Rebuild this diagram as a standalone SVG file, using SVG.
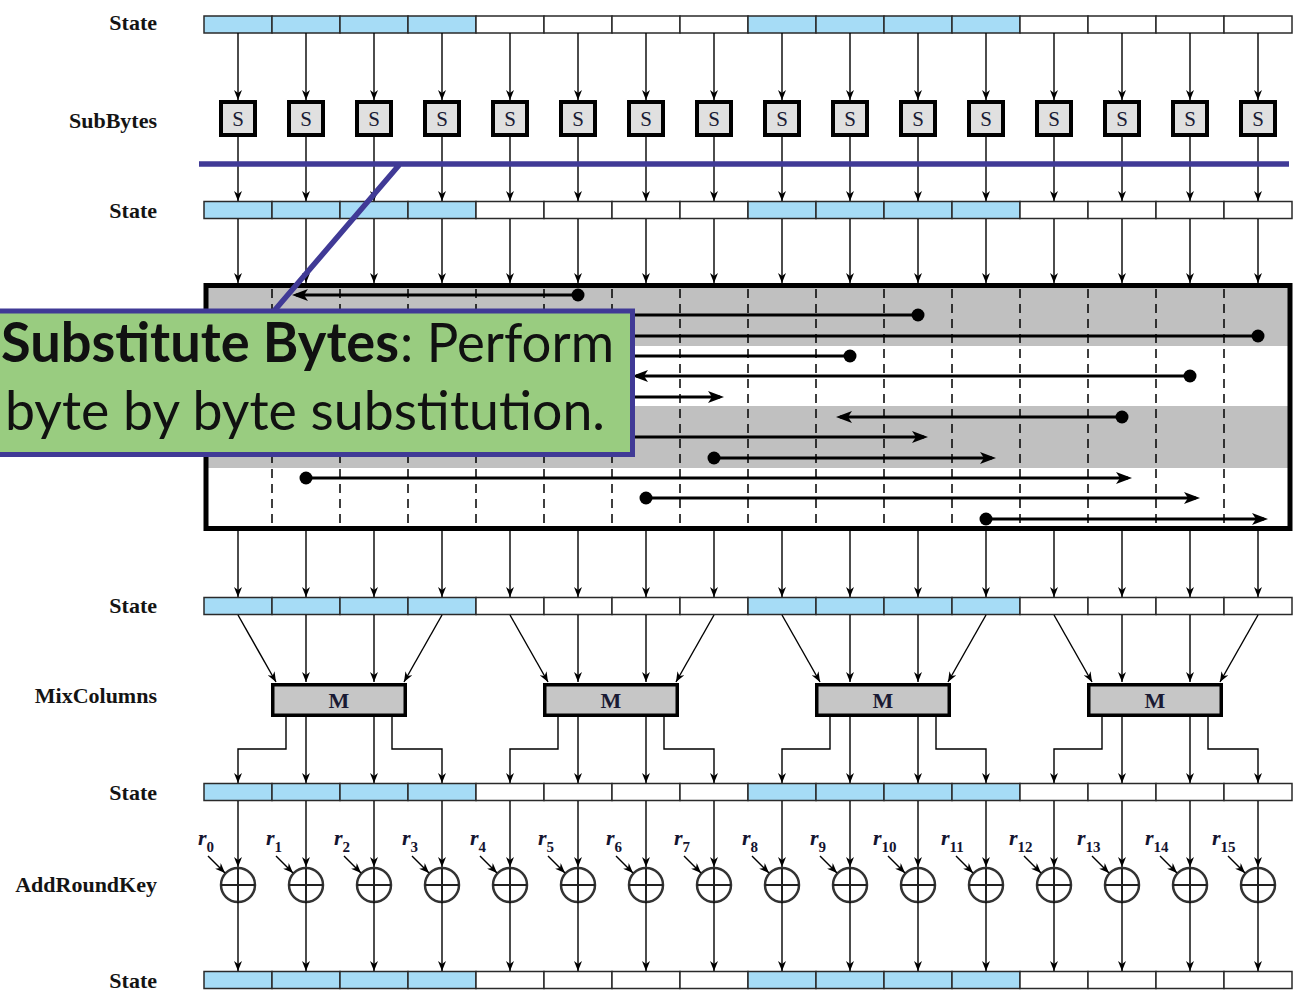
<svg xmlns="http://www.w3.org/2000/svg" xmlns:xlink="http://www.w3.org/1999/xlink" width="1300" height="1005" viewBox="0 0 1300 1005">
<style>
.lbl{font-family:"Liberation Serif","Times New Roman",serif;font-weight:bold;font-size:22px;fill:#141414;text-anchor:end}
.cb{fill:#a6dcf6;stroke:#2a2a2a;stroke-width:1.5}
.cw{fill:#ffffff;stroke:#2a2a2a;stroke-width:1.5}
.sbox{fill:#e0e0e0;stroke:#000;stroke-width:4}
.stx{font-family:"Liberation Serif","Times New Roman",serif;font-size:21px;fill:#1a1a33;text-anchor:middle}
.mbox{fill:#c6c6c6;stroke:#000;stroke-width:3.5}
.mtx{font-family:"Liberation Serif","Times New Roman",serif;font-weight:bold;font-size:22px;fill:#1a1a33;text-anchor:middle}
.ar{stroke:#000;stroke-width:1.4;fill:none;marker-end:url(#ah)}
.sh{stroke:#000;stroke-width:3;fill:none;marker-end:url(#ahb)}
.dot{fill:#000}
.dash{stroke:#000;stroke-width:1.5;stroke-dasharray:9 6}
.band{fill:#c0c0c0}
.xor{fill:#fff;stroke:#333;stroke-width:2.5}
.plus{stroke:#222;stroke-width:2}
.rk{font-family:"Liberation Serif","Times New Roman",serif;font-style:italic;font-weight:bold;font-size:22px;fill:#141430}
.sub{font-style:normal;font-size:15px}
.co{font-family:Lato,"Open Sans",sans-serif;font-size:55px;fill:#111}
.pur{stroke:#403a96;stroke-width:5.5;fill:none}
</style>
<defs>
<marker id="ah" viewBox="0 0 10 8" refX="10" refY="4" markerWidth="10" markerHeight="8" markerUnits="userSpaceOnUse" orient="auto"><path d="M0,0 L10,4 L0,8 L3,4 z" fill="#000"/></marker>
<marker id="ahb" viewBox="0 0 16 12" refX="12" refY="6" markerWidth="16" markerHeight="12" markerUnits="userSpaceOnUse" orient="auto"><path d="M0,0 L16,6 L0,12 L4,6 z" fill="#000"/></marker>
<g id="bar">
<rect x="204" y="0" width="68" height="17" class="cb"/>
<rect x="272" y="0" width="68" height="17" class="cb"/>
<rect x="340" y="0" width="68" height="17" class="cb"/>
<rect x="408" y="0" width="68" height="17" class="cb"/>
<rect x="476" y="0" width="68" height="17" class="cw"/>
<rect x="544" y="0" width="68" height="17" class="cw"/>
<rect x="612" y="0" width="68" height="17" class="cw"/>
<rect x="680" y="0" width="68" height="17" class="cw"/>
<rect x="748" y="0" width="68" height="17" class="cb"/>
<rect x="816" y="0" width="68" height="17" class="cb"/>
<rect x="884" y="0" width="68" height="17" class="cb"/>
<rect x="952" y="0" width="68" height="17" class="cb"/>
<rect x="1020" y="0" width="68" height="17" class="cw"/>
<rect x="1088" y="0" width="68" height="17" class="cw"/>
<rect x="1156" y="0" width="68" height="17" class="cw"/>
<rect x="1224" y="0" width="68" height="17" class="cw"/>
</g>
</defs>
<rect width="1300" height="1005" fill="#fff"/>

<g id="labels">
<text class="lbl" x="157" y="30">State</text>
<text class="lbl" x="157" y="128">SubBytes</text>
<text class="lbl" x="157" y="218">State</text>
<text class="lbl" x="157" y="613">State</text>
<text class="lbl" x="157" y="703">MixColumns</text>
<text class="lbl" x="157" y="800">State</text>
<text class="lbl" x="157" y="892">AddRoundKey</text>
<text class="lbl" x="157" y="988">State</text>
</g>

<g id="state-1"><use href="#bar" y="16"/></g>
<g id="state-2"><use href="#bar" y="201.5"/></g>
<g id="state-3"><use href="#bar" y="597.5"/></g>
<g id="state-4"><use href="#bar" y="783.5"/></g>
<g id="state-5"><use href="#bar" y="971.5"/></g>

<g id="subbytes">
<g id="s0"><rect class="sbox" x="221" y="102" width="34" height="33"/><text class="stx" x="238" y="126">S</text></g>
<g id="s1"><rect class="sbox" x="289" y="102" width="34" height="33"/><text class="stx" x="306" y="126">S</text></g>
<g id="s2"><rect class="sbox" x="357" y="102" width="34" height="33"/><text class="stx" x="374" y="126">S</text></g>
<g id="s3"><rect class="sbox" x="425" y="102" width="34" height="33"/><text class="stx" x="442" y="126">S</text></g>
<g id="s4"><rect class="sbox" x="493" y="102" width="34" height="33"/><text class="stx" x="510" y="126">S</text></g>
<g id="s5"><rect class="sbox" x="561" y="102" width="34" height="33"/><text class="stx" x="578" y="126">S</text></g>
<g id="s6"><rect class="sbox" x="629" y="102" width="34" height="33"/><text class="stx" x="646" y="126">S</text></g>
<g id="s7"><rect class="sbox" x="697" y="102" width="34" height="33"/><text class="stx" x="714" y="126">S</text></g>
<g id="s8"><rect class="sbox" x="765" y="102" width="34" height="33"/><text class="stx" x="782" y="126">S</text></g>
<g id="s9"><rect class="sbox" x="833" y="102" width="34" height="33"/><text class="stx" x="850" y="126">S</text></g>
<g id="s10"><rect class="sbox" x="901" y="102" width="34" height="33"/><text class="stx" x="918" y="126">S</text></g>
<g id="s11"><rect class="sbox" x="969" y="102" width="34" height="33"/><text class="stx" x="986" y="126">S</text></g>
<g id="s12"><rect class="sbox" x="1037" y="102" width="34" height="33"/><text class="stx" x="1054" y="126">S</text></g>
<g id="s13"><rect class="sbox" x="1105" y="102" width="34" height="33"/><text class="stx" x="1122" y="126">S</text></g>
<g id="s14"><rect class="sbox" x="1173" y="102" width="34" height="33"/><text class="stx" x="1190" y="126">S</text></g>
<g id="s15"><rect class="sbox" x="1241" y="102" width="34" height="33"/><text class="stx" x="1258" y="126">S</text></g>
</g>

<g id="shiftrows">
<rect x="206" y="286" width="1084" height="60" class="band"/>
<rect x="206" y="406" width="1084" height="62" class="band"/>
<g id="dashes">
<line class="dash" x1="272" y1="289" x2="272" y2="528"/>
<line class="dash" x1="340" y1="289" x2="340" y2="528"/>
<line class="dash" x1="408" y1="289" x2="408" y2="528"/>
<line class="dash" x1="476" y1="289" x2="476" y2="528"/>
<line class="dash" x1="544" y1="289" x2="544" y2="528"/>
<line class="dash" x1="612" y1="289" x2="612" y2="528"/>
<line class="dash" x1="680" y1="289" x2="680" y2="528"/>
<line class="dash" x1="748" y1="289" x2="748" y2="528"/>
<line class="dash" x1="816" y1="289" x2="816" y2="528"/>
<line class="dash" x1="884" y1="289" x2="884" y2="528"/>
<line class="dash" x1="952" y1="289" x2="952" y2="528"/>
<line class="dash" x1="1020" y1="289" x2="1020" y2="528"/>
<line class="dash" x1="1088" y1="289" x2="1088" y2="528"/>
<line class="dash" x1="1156" y1="289" x2="1156" y2="528"/>
<line class="dash" x1="1224" y1="289" x2="1224" y2="528"/>
</g>
<g id="shifts">
<line class="sh" x1="578" y1="295" x2="296" y2="295"/><circle class="dot" cx="578" cy="295" r="6.5"/>
<line class="sh" x1="918" y1="315" x2="364" y2="315"/><circle class="dot" cx="918" cy="315" r="6.5"/>
<line class="sh" x1="1258" y1="336" x2="432" y2="336"/><circle class="dot" cx="1258" cy="336" r="6.5"/>
<line class="sh" x1="850" y1="356" x2="568" y2="356"/><circle class="dot" cx="850" cy="356" r="6.5"/>
<line class="sh" x1="1190" y1="376" x2="636" y2="376"/><circle class="dot" cx="1190" cy="376" r="6.5"/>
<line class="sh" x1="442" y1="397" x2="720" y2="397"/><circle class="dot" cx="442" cy="397" r="6.5"/>
<line class="sh" x1="1122" y1="417" x2="840" y2="417"/><circle class="dot" cx="1122" cy="417" r="6.5"/>
<line class="sh" x1="374" y1="437" x2="924" y2="437"/><circle class="dot" cx="374" cy="437" r="6.5"/>
<line class="sh" x1="714" y1="458" x2="992" y2="458"/><circle class="dot" cx="714" cy="458" r="6.5"/>
<line class="sh" x1="306" y1="478" x2="1128" y2="478"/><circle class="dot" cx="306" cy="478" r="6.5"/>
<line class="sh" x1="646" y1="498" x2="1196" y2="498"/><circle class="dot" cx="646" cy="498" r="6.5"/>
<line class="sh" x1="986" y1="519" x2="1264" y2="519"/><circle class="dot" cx="986" cy="519" r="6.5"/>
</g>
<rect x="206" y="285.5" width="1084" height="243" fill="none" stroke="#000" stroke-width="5"/>
</g>

<g id="mixcolumns">
<g id="m0"><rect class="mbox" x="272.75" y="684.75" width="132.5" height="30.5"/><text class="mtx" x="339" y="708">M</text></g>
<g id="m1"><rect class="mbox" x="544.75" y="684.75" width="132.5" height="30.5"/><text class="mtx" x="611" y="708">M</text></g>
<g id="m2"><rect class="mbox" x="816.75" y="684.75" width="132.5" height="30.5"/><text class="mtx" x="883" y="708">M</text></g>
<g id="m3"><rect class="mbox" x="1088.75" y="684.75" width="132.5" height="30.5"/><text class="mtx" x="1155" y="708">M</text></g>
</g>

<g id="addroundkey">
<g id="x0"><circle class="xor" cx="238" cy="885" r="17"/><path class="plus" d="M221,885H255M238,868V902"/><text class="rk" x="198" y="845">r<tspan class="sub" dy="7">0</tspan></text></g>
<g id="x1"><circle class="xor" cx="306" cy="885" r="17"/><path class="plus" d="M289,885H323M306,868V902"/><text class="rk" x="266" y="845">r<tspan class="sub" dy="7">1</tspan></text></g>
<g id="x2"><circle class="xor" cx="374" cy="885" r="17"/><path class="plus" d="M357,885H391M374,868V902"/><text class="rk" x="334" y="845">r<tspan class="sub" dy="7">2</tspan></text></g>
<g id="x3"><circle class="xor" cx="442" cy="885" r="17"/><path class="plus" d="M425,885H459M442,868V902"/><text class="rk" x="402" y="845">r<tspan class="sub" dy="7">3</tspan></text></g>
<g id="x4"><circle class="xor" cx="510" cy="885" r="17"/><path class="plus" d="M493,885H527M510,868V902"/><text class="rk" x="470" y="845">r<tspan class="sub" dy="7">4</tspan></text></g>
<g id="x5"><circle class="xor" cx="578" cy="885" r="17"/><path class="plus" d="M561,885H595M578,868V902"/><text class="rk" x="538" y="845">r<tspan class="sub" dy="7">5</tspan></text></g>
<g id="x6"><circle class="xor" cx="646" cy="885" r="17"/><path class="plus" d="M629,885H663M646,868V902"/><text class="rk" x="606" y="845">r<tspan class="sub" dy="7">6</tspan></text></g>
<g id="x7"><circle class="xor" cx="714" cy="885" r="17"/><path class="plus" d="M697,885H731M714,868V902"/><text class="rk" x="674" y="845">r<tspan class="sub" dy="7">7</tspan></text></g>
<g id="x8"><circle class="xor" cx="782" cy="885" r="17"/><path class="plus" d="M765,885H799M782,868V902"/><text class="rk" x="742" y="845">r<tspan class="sub" dy="7">8</tspan></text></g>
<g id="x9"><circle class="xor" cx="850" cy="885" r="17"/><path class="plus" d="M833,885H867M850,868V902"/><text class="rk" x="810" y="845">r<tspan class="sub" dy="7">9</tspan></text></g>
<g id="x10"><circle class="xor" cx="918" cy="885" r="17"/><path class="plus" d="M901,885H935M918,868V902"/><text class="rk" x="873" y="845">r<tspan class="sub" dy="7">10</tspan></text></g>
<g id="x11"><circle class="xor" cx="986" cy="885" r="17"/><path class="plus" d="M969,885H1003M986,868V902"/><text class="rk" x="941" y="845">r<tspan class="sub" dy="7">11</tspan></text></g>
<g id="x12"><circle class="xor" cx="1054" cy="885" r="17"/><path class="plus" d="M1037,885H1071M1054,868V902"/><text class="rk" x="1009" y="845">r<tspan class="sub" dy="7">12</tspan></text></g>
<g id="x13"><circle class="xor" cx="1122" cy="885" r="17"/><path class="plus" d="M1105,885H1139M1122,868V902"/><text class="rk" x="1077" y="845">r<tspan class="sub" dy="7">13</tspan></text></g>
<g id="x14"><circle class="xor" cx="1190" cy="885" r="17"/><path class="plus" d="M1173,885H1207M1190,868V902"/><text class="rk" x="1145" y="845">r<tspan class="sub" dy="7">14</tspan></text></g>
<g id="x15"><circle class="xor" cx="1258" cy="885" r="17"/><path class="plus" d="M1241,885H1275M1258,868V902"/><text class="rk" x="1212" y="845">r<tspan class="sub" dy="7">15</tspan></text></g>
</g>

<g id="connectors">
<g id="c-state1-sbox">
<line class="ar" x1="238" y1="33" x2="238" y2="100"/><line class="ar" x1="306" y1="33" x2="306" y2="100"/><line class="ar" x1="374" y1="33" x2="374" y2="100"/><line class="ar" x1="442" y1="33" x2="442" y2="100"/>
<line class="ar" x1="510" y1="33" x2="510" y2="100"/><line class="ar" x1="578" y1="33" x2="578" y2="100"/><line class="ar" x1="646" y1="33" x2="646" y2="100"/><line class="ar" x1="714" y1="33" x2="714" y2="100"/>
<line class="ar" x1="782" y1="33" x2="782" y2="100"/><line class="ar" x1="850" y1="33" x2="850" y2="100"/><line class="ar" x1="918" y1="33" x2="918" y2="100"/><line class="ar" x1="986" y1="33" x2="986" y2="100"/>
<line class="ar" x1="1054" y1="33" x2="1054" y2="100"/><line class="ar" x1="1122" y1="33" x2="1122" y2="100"/><line class="ar" x1="1190" y1="33" x2="1190" y2="100"/><line class="ar" x1="1258" y1="33" x2="1258" y2="100"/>
</g>
<g id="c-sbox-state2">
<line class="ar" x1="238" y1="137" x2="238" y2="201"/><line class="ar" x1="306" y1="137" x2="306" y2="201"/><line class="ar" x1="374" y1="137" x2="374" y2="201"/><line class="ar" x1="442" y1="137" x2="442" y2="201"/>
<line class="ar" x1="510" y1="137" x2="510" y2="201"/><line class="ar" x1="578" y1="137" x2="578" y2="201"/><line class="ar" x1="646" y1="137" x2="646" y2="201"/><line class="ar" x1="714" y1="137" x2="714" y2="201"/>
<line class="ar" x1="782" y1="137" x2="782" y2="201"/><line class="ar" x1="850" y1="137" x2="850" y2="201"/><line class="ar" x1="918" y1="137" x2="918" y2="201"/><line class="ar" x1="986" y1="137" x2="986" y2="201"/>
<line class="ar" x1="1054" y1="137" x2="1054" y2="201"/><line class="ar" x1="1122" y1="137" x2="1122" y2="201"/><line class="ar" x1="1190" y1="137" x2="1190" y2="201"/><line class="ar" x1="1258" y1="137" x2="1258" y2="201"/>
</g>
<g id="c-state2-shift">
<line class="ar" x1="238" y1="219" x2="238" y2="283"/><line class="ar" x1="306" y1="219" x2="306" y2="283"/><line class="ar" x1="374" y1="219" x2="374" y2="283"/><line class="ar" x1="442" y1="219" x2="442" y2="283"/>
<line class="ar" x1="510" y1="219" x2="510" y2="283"/><line class="ar" x1="578" y1="219" x2="578" y2="283"/><line class="ar" x1="646" y1="219" x2="646" y2="283"/><line class="ar" x1="714" y1="219" x2="714" y2="283"/>
<line class="ar" x1="782" y1="219" x2="782" y2="283"/><line class="ar" x1="850" y1="219" x2="850" y2="283"/><line class="ar" x1="918" y1="219" x2="918" y2="283"/><line class="ar" x1="986" y1="219" x2="986" y2="283"/>
<line class="ar" x1="1054" y1="219" x2="1054" y2="283"/><line class="ar" x1="1122" y1="219" x2="1122" y2="283"/><line class="ar" x1="1190" y1="219" x2="1190" y2="283"/><line class="ar" x1="1258" y1="219" x2="1258" y2="283"/>
</g>
<g id="c-shift-state3">
<line class="ar" x1="238" y1="531" x2="238" y2="597"/><line class="ar" x1="306" y1="531" x2="306" y2="597"/><line class="ar" x1="374" y1="531" x2="374" y2="597"/><line class="ar" x1="442" y1="531" x2="442" y2="597"/>
<line class="ar" x1="510" y1="531" x2="510" y2="597"/><line class="ar" x1="578" y1="531" x2="578" y2="597"/><line class="ar" x1="646" y1="531" x2="646" y2="597"/><line class="ar" x1="714" y1="531" x2="714" y2="597"/>
<line class="ar" x1="782" y1="531" x2="782" y2="597"/><line class="ar" x1="850" y1="531" x2="850" y2="597"/><line class="ar" x1="918" y1="531" x2="918" y2="597"/><line class="ar" x1="986" y1="531" x2="986" y2="597"/>
<line class="ar" x1="1054" y1="531" x2="1054" y2="597"/><line class="ar" x1="1122" y1="531" x2="1122" y2="597"/><line class="ar" x1="1190" y1="531" x2="1190" y2="597"/><line class="ar" x1="1258" y1="531" x2="1258" y2="597"/>
</g>
<g id="c-state3-mix">
<line class="ar" x1="238" y1="615" x2="276" y2="682"/><line class="ar" x1="306" y1="615" x2="306" y2="682"/><line class="ar" x1="374" y1="615" x2="374" y2="682"/><line class="ar" x1="442" y1="615" x2="404" y2="682"/>
<line class="ar" x1="510" y1="615" x2="548" y2="682"/><line class="ar" x1="578" y1="615" x2="578" y2="682"/><line class="ar" x1="646" y1="615" x2="646" y2="682"/><line class="ar" x1="714" y1="615" x2="676" y2="682"/>
<line class="ar" x1="782" y1="615" x2="820" y2="682"/><line class="ar" x1="850" y1="615" x2="850" y2="682"/><line class="ar" x1="918" y1="615" x2="918" y2="682"/><line class="ar" x1="986" y1="615" x2="948" y2="682"/>
<line class="ar" x1="1054" y1="615" x2="1092" y2="682"/><line class="ar" x1="1122" y1="615" x2="1122" y2="682"/><line class="ar" x1="1190" y1="615" x2="1190" y2="682"/><line class="ar" x1="1258" y1="615" x2="1220" y2="682"/>
</g>
<g id="c-mix-state4">
<path class="ar" d="M286,717V749H238V783"/><line class="ar" x1="306" y1="717" x2="306" y2="783"/><line class="ar" x1="374" y1="717" x2="374" y2="783"/><path class="ar" d="M392,717V749H442V783"/>
<path class="ar" d="M558,717V749H510V783"/><line class="ar" x1="578" y1="717" x2="578" y2="783"/><line class="ar" x1="646" y1="717" x2="646" y2="783"/><path class="ar" d="M664,717V749H714V783"/>
<path class="ar" d="M830,717V749H782V783"/><line class="ar" x1="850" y1="717" x2="850" y2="783"/><line class="ar" x1="918" y1="717" x2="918" y2="783"/><path class="ar" d="M936,717V749H986V783"/>
<path class="ar" d="M1102,717V749H1054V783"/><line class="ar" x1="1122" y1="717" x2="1122" y2="783"/><line class="ar" x1="1190" y1="717" x2="1190" y2="783"/><path class="ar" d="M1208,717V749H1258V783"/>
</g>
<g id="c-state4-xor">
<line class="ar" x1="238" y1="801" x2="238" y2="867"/><line class="ar" x1="306" y1="801" x2="306" y2="867"/><line class="ar" x1="374" y1="801" x2="374" y2="867"/><line class="ar" x1="442" y1="801" x2="442" y2="867"/>
<line class="ar" x1="510" y1="801" x2="510" y2="867"/><line class="ar" x1="578" y1="801" x2="578" y2="867"/><line class="ar" x1="646" y1="801" x2="646" y2="867"/><line class="ar" x1="714" y1="801" x2="714" y2="867"/>
<line class="ar" x1="782" y1="801" x2="782" y2="867"/><line class="ar" x1="850" y1="801" x2="850" y2="867"/><line class="ar" x1="918" y1="801" x2="918" y2="867"/><line class="ar" x1="986" y1="801" x2="986" y2="867"/>
<line class="ar" x1="1054" y1="801" x2="1054" y2="867"/><line class="ar" x1="1122" y1="801" x2="1122" y2="867"/><line class="ar" x1="1190" y1="801" x2="1190" y2="867"/><line class="ar" x1="1258" y1="801" x2="1258" y2="867"/>
</g>
<g id="c-key-xor">
<line class="ar" x1="208" y1="856" x2="225" y2="873"/><line class="ar" x1="276" y1="856" x2="293" y2="873"/><line class="ar" x1="344" y1="856" x2="361" y2="873"/><line class="ar" x1="412" y1="856" x2="429" y2="873"/>
<line class="ar" x1="480" y1="856" x2="497" y2="873"/><line class="ar" x1="548" y1="856" x2="565" y2="873"/><line class="ar" x1="616" y1="856" x2="633" y2="873"/><line class="ar" x1="684" y1="856" x2="701" y2="873"/>
<line class="ar" x1="752" y1="856" x2="769" y2="873"/><line class="ar" x1="820" y1="856" x2="837" y2="873"/><line class="ar" x1="888" y1="856" x2="905" y2="873"/><line class="ar" x1="956" y1="856" x2="973" y2="873"/>
<line class="ar" x1="1024" y1="856" x2="1041" y2="873"/><line class="ar" x1="1092" y1="856" x2="1109" y2="873"/><line class="ar" x1="1160" y1="856" x2="1177" y2="873"/><line class="ar" x1="1228" y1="856" x2="1245" y2="873"/>
</g>
<g id="c-xor-state5">
<line class="ar" x1="238" y1="902" x2="238" y2="971"/><line class="ar" x1="306" y1="902" x2="306" y2="971"/><line class="ar" x1="374" y1="902" x2="374" y2="971"/><line class="ar" x1="442" y1="902" x2="442" y2="971"/>
<line class="ar" x1="510" y1="902" x2="510" y2="971"/><line class="ar" x1="578" y1="902" x2="578" y2="971"/><line class="ar" x1="646" y1="902" x2="646" y2="971"/><line class="ar" x1="714" y1="902" x2="714" y2="971"/>
<line class="ar" x1="782" y1="902" x2="782" y2="971"/><line class="ar" x1="850" y1="902" x2="850" y2="971"/><line class="ar" x1="918" y1="902" x2="918" y2="971"/><line class="ar" x1="986" y1="902" x2="986" y2="971"/>
<line class="ar" x1="1054" y1="902" x2="1054" y2="971"/><line class="ar" x1="1122" y1="902" x2="1122" y2="971"/><line class="ar" x1="1190" y1="902" x2="1190" y2="971"/><line class="ar" x1="1258" y1="902" x2="1258" y2="971"/>
</g>
</g>

<g id="callout">
<path class="pur" d="M199,164H1289M400,164L274,311"/>
<rect x="-10" y="311" width="642.5" height="143.5" fill="#99cc80" stroke="#403a96" stroke-width="5"/>
<text class="co" x="1" y="362" font-weight="bold" textLength="398" lengthAdjust="spacingAndGlyphs">Substitute Bytes</text>
<text class="co" x="400" y="362" textLength="214" lengthAdjust="spacingAndGlyphs">: Perform</text>
<text class="co" x="5" y="430" textLength="600" lengthAdjust="spacingAndGlyphs">byte by byte substitution.</text>
</g>
</svg>
